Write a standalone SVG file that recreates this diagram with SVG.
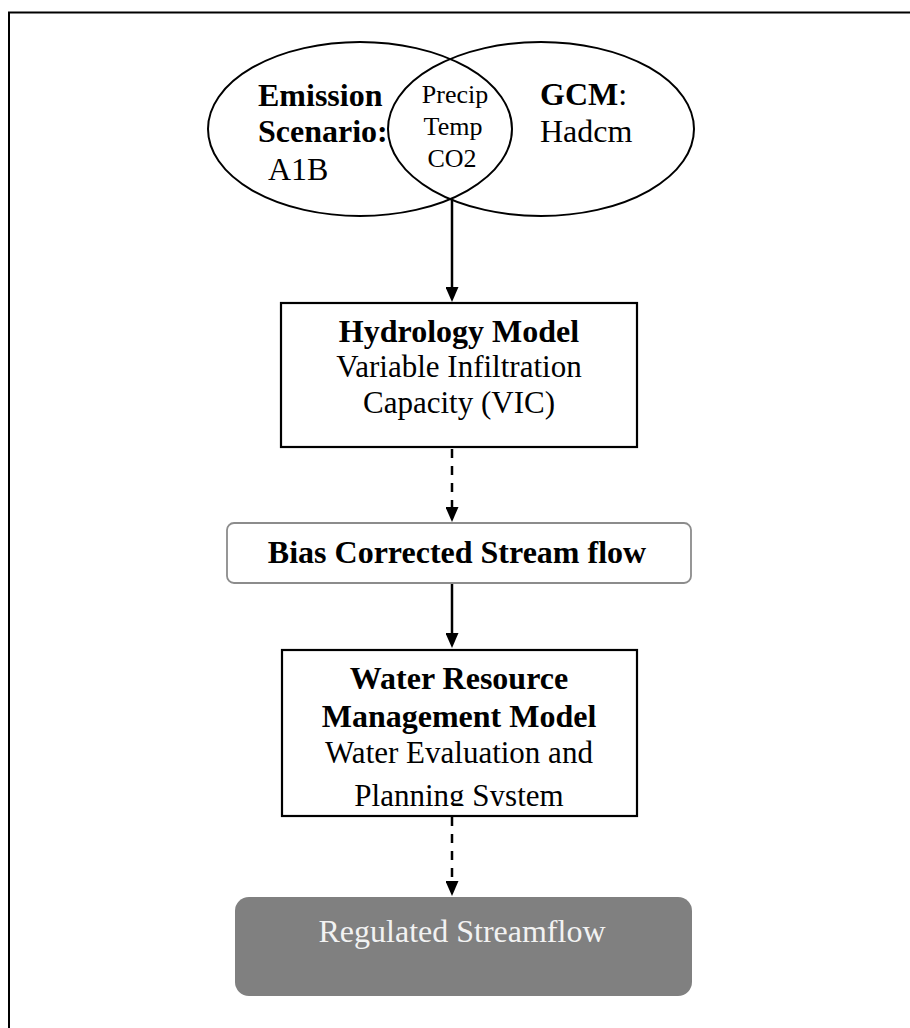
<svg xmlns="http://www.w3.org/2000/svg" width="910" height="1028" viewBox="0 0 910 1028">
<style>
text{font-family:"Liberation Serif","Times New Roman",serif;fill:#000}
.b{font-weight:bold}
.t32{font-size:32px}
.t31{font-size:31px}
.t26{font-size:26px}
.ell{fill:none;stroke:#000;stroke-width:2}
.box{fill:#fff;stroke:#000;stroke-width:2.2}
.conn{stroke:#000;stroke-width:2.5;fill:none}
.dash{stroke-dasharray:9 8}
</style>
<defs>
<marker id="ah" viewBox="0 0 15 13" markerWidth="15" markerHeight="13" refX="7" refY="6.5" orient="auto" markerUnits="userSpaceOnUse">
<path d="M0,0 L15,6.5 L0,13 Z" fill="#000"/>
</marker>
<clipPath id="wrmclip"><rect x="282" y="650" width="355" height="156"/></clipPath>
</defs>
<rect width="910" height="1028" fill="#fff"/>
<path d="M9 1028 V12.5 H910" fill="none" stroke="#000" stroke-width="2"/>

<g id="emission">
<ellipse class="ell" cx="360" cy="129" rx="152" ry="87"/>
<text class="b t32" x="258" y="106">Emission</text>
<text class="b t32" x="258" y="142">Scenario:</text>
<text class="t32" x="268" y="180">A1B</text>
</g>
<g id="gcm">
<ellipse class="ell" cx="541" cy="129" rx="153" ry="87"/>
<text class="t32" x="540" y="105"><tspan class="b">GCM</tspan>:</text>
<text class="t32" x="540" y="142">Hadcm</text>
</g>
<g id="overlap">
<text class="t26" x="455" y="103" text-anchor="middle">Precip</text>
<text class="t26" x="453" y="135" text-anchor="middle">Temp</text>
<text class="t26" x="452" y="167" text-anchor="middle">CO2</text>
</g>

<g id="hydrology">
<rect class="box" x="281" y="303" width="356" height="144"/>
<text class="b t32" x="459" y="342" text-anchor="middle">Hydrology Model</text>
<text class="t31" x="459" y="377" text-anchor="middle">Variable Infiltration</text>
<text class="t31" x="459" y="413" text-anchor="middle">Capacity (VIC)</text>
</g>

<g id="bias">
<rect x="227" y="523" width="464" height="60" rx="7" fill="#fff" stroke="#8c8c8c" stroke-width="1.8"/>
<text class="b t32" x="457" y="563" text-anchor="middle">Bias Corrected Stream flow</text>
</g>

<g id="wrm">
<rect class="box" x="282" y="650" width="355" height="166"/>
<text class="b t32" x="459" y="689" text-anchor="middle">Water Resource</text>
<text class="b t32" x="459" y="727" text-anchor="middle">Management Model</text>
<text class="t31" x="459" y="763" text-anchor="middle">Water Evaluation and</text>
<text class="t31" x="459" y="806" text-anchor="middle" clip-path="url(#wrmclip)">Planning System</text>
</g>

<g id="regulated">
<rect x="235" y="897" width="457" height="99" rx="14" fill="#808080"/>
<text class="t32" x="462" y="942" text-anchor="middle" style="fill:#f2f2f2">Regulated Streamflow</text>
</g>

<g id="connectors">
<line class="conn" x1="452" y1="199" x2="452" y2="294" marker-end="url(#ah)"/>
<line class="conn dash" x1="452" y1="449" x2="452" y2="514" marker-end="url(#ah)"/>
<line class="conn" x1="452" y1="584" x2="452" y2="640" marker-end="url(#ah)"/>
<line class="conn dash" x1="452" y1="817" x2="452" y2="888" marker-end="url(#ah)"/>
</g>
</svg>
